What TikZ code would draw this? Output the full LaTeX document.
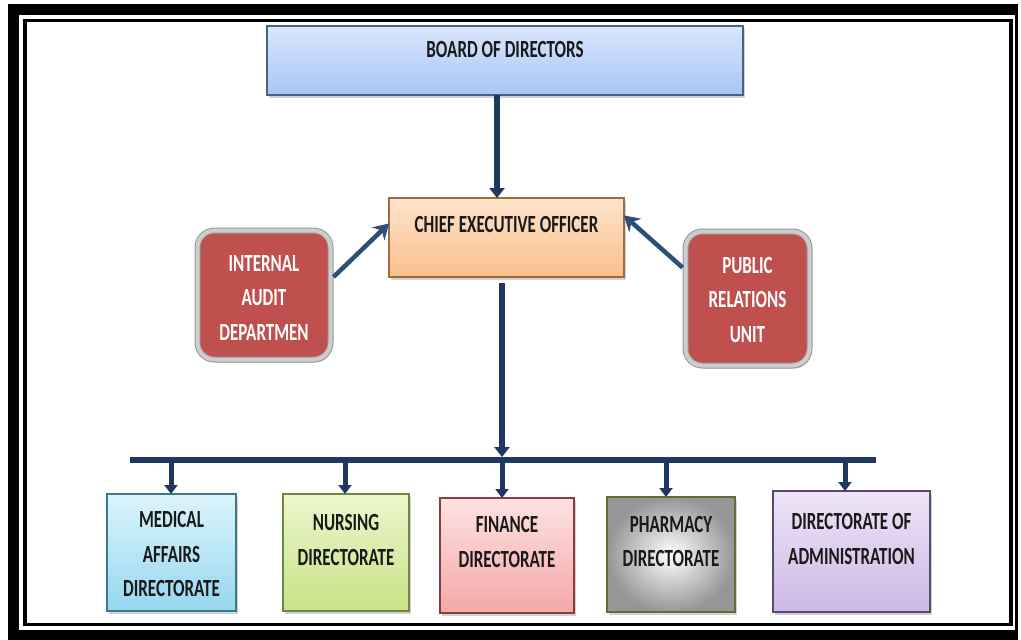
\documentclass[tikz,border=0pt]{standalone}
\usepackage{fontspec}
\setmainfont{Carlito}
\usepackage{graphicx}
\usetikzlibrary{arrows.meta,shadows}
\definecolor{navy}{RGB}{31,56,96}
\definecolor{diagblue}{RGB}{44,78,120}
\definecolor{redbox}{RGB}{192,80,77}
\definecolor{redrim}{RGB}{205,205,205}
\definecolor{redrimdark}{RGB}{150,150,150}
\definecolor{txt}{RGB}{25,25,25}
\newcommand\ttl[1]{\scalebox{1}[1.45]{#1}}
\tikzset{
  box/.style={rectangle, line width=1.6pt, inner sep=0pt, outer sep=0pt,
    drop shadow={shadow xshift=2pt, shadow yshift=-2.5pt, opacity=0.35}},
  redb/.style={rectangle, rounded corners=17pt, fill=redbox, draw=redrimdark, line width=1pt,
    double=redrim, double distance=4pt,
    inner sep=0pt, outer sep=3pt,
    drop shadow={shadow xshift=2pt, shadow yshift=-3pt, opacity=0.35}},
  lbl/.style={font=\bfseries\fontsize{17}{34.5}\selectfont, text=txt, align=center, inner sep=0pt},
  wlbl/.style={lbl, text=white},
  bigarrow/.style={draw=navy, line width=6pt, -{Triangle[width=15pt,length=10pt]}},
  smallarrow/.style={draw=navy, line width=5pt, -{Triangle[width=13pt,length=9pt]}},
  diagarrow/.style={draw=diagblue, line width=4.5pt, -{Stealth[length=15pt,width=18pt,inset=5pt]}},
}
\begin{document}
\begin{tikzpicture}[x=1pt,y=-1pt]
\useasboundingbox (0,0) rectangle (1021,640);
% frame
\fill[black] (8,4) rectangle (1018,640);
\fill[white] (19,15) rectangle (1015,630);
\draw[black, line width=3.5pt] (25,20.5) rectangle (1011,624.5);

% boxes
\node[box, draw={rgb,255:red,74;green,98;blue,128}, top color={rgb,255:red,218;green,230;blue,252}, bottom color={rgb,255:red,166;green,198;blue,246}, minimum width=476pt, minimum height=69pt] (board) at (505,60.5) {};
\node[lbl] (board-t) at (505,50) {\ttl{BOARD OF DIRECTORS}};

\node[box, draw={rgb,255:red,160;green,108;blue,62}, top color={rgb,255:red,253;green,228;blue,204}, bottom color={rgb,255:red,250;green,190;blue,140}, minimum width=235pt, minimum height=79pt] (ceo) at (506.5,237.5) {};
\node[lbl] (ceo-t) at (506.5,225) {\ttl{CHIEF EXECUTIVE OFFICER}};

\node[redb, minimum width=133pt, minimum height=129pt] (audit) at (264,295) {};
\node[wlbl] (audit-t) at (264,298) {\ttl{INTERNAL}\\\ttl{AUDIT}\\\ttl{DEPARTMEN}};

\node[redb, minimum width=124pt, minimum height=134pt] (pr) at (747.5,298.5) {};
\node[wlbl] (pr-t) at (747.5,300) {\ttl{PUBLIC}\\\ttl{RELATIONS}\\\ttl{UNIT}};

\node[box, draw={rgb,255:red,60;green,120;blue,140}, top color={rgb,255:red,220;green,244;blue,252}, bottom color={rgb,255:red,150;green,215;blue,238}, minimum width=129pt, minimum height=117pt] (med) at (171.5,552.5) {};
\node[lbl] (med-t) at (171.5,554) {\ttl{MEDICAL}\\\ttl{AFFAIRS}\\\ttl{DIRECTORATE}};

\node[box, draw={rgb,255:red,110;green,135;blue,60}, top color={rgb,255:red,236;green,246;blue,204}, bottom color={rgb,255:red,200;green,226;blue,136}, minimum width=126pt, minimum height=117pt] (nurs) at (346,552.5) {};
\node[lbl] (nurs-t) at (346,540) {\ttl{NURSING}\\\ttl{DIRECTORATE}};

\node[box, draw={rgb,255:red,140;green,60;blue,60}, top color={rgb,255:red,253;green,226;blue,226}, bottom color={rgb,255:red,243;green,168;blue,166}, minimum width=134pt, minimum height=115pt] (fin) at (507,555.5) {};
\node[lbl] (fin-t) at (507,542) {\ttl{FINANCE}\\\ttl{DIRECTORATE}};

\node[box, draw={rgb,255:red,95;green,110;blue,50}, inner color=white, outer color={rgb,255:red,150;green,150;blue,150}, minimum width=128pt, minimum height=115pt] (phar) at (671,554.5) {};
\node[lbl] (phar-t) at (671,541.5) {\ttl{PHARMACY}\\\ttl{DIRECTORATE}};

\node[box, draw={rgb,255:red,90;green,74;blue,112}, top color={rgb,255:red,238;green,228;blue,247}, bottom color={rgb,255:red,204;green,184;blue,230}, minimum width=157pt, minimum height=121pt] (admin) at (851.5,551.5) {};
\node[lbl] (admin-t) at (851.5,539) {\ttl{DIRECTORATE OF}\\\ttl{ADMINISTRATION}};

% connectors
\coordinate (topx) at (497,0);
\draw[bigarrow] (board.south -| topx) -- (ceo.north -| topx);

\coordinate (busL) at (130,460);
\coordinate (busR) at (876,460);
\draw[navy, line width=6pt] (busL) -- (busR);
\coordinate (b1) at (171,460);
\coordinate (b2) at (345,460);
\coordinate (b3) at (502,460);
\coordinate (b4) at (666,460);
\coordinate (b5) at (845,460);
\draw[bigarrow] ([yshift=-6pt]ceo.south -| b3) -- ([yshift=3pt]b3);
\draw[smallarrow] ([yshift=-2pt]b1) -- (b1 |- med.north);
\draw[smallarrow] ([yshift=-2pt]b2) -- (b2 |- nurs.north);
\draw[smallarrow] ([yshift=-2pt]b3) -- (b3 |- fin.north);
\draw[smallarrow] ([yshift=-2pt]b4) -- (b4 |- phar.north);
\draw[smallarrow] ([yshift=-2pt]b5) -- (b5 |- admin.north);

\draw[diagarrow] ([yshift=18pt]audit.east) -- ([yshift=14pt]ceo.west);
\draw[diagarrow] ([yshift=31pt]pr.west) -- ([yshift=22pt]ceo.east);
\end{tikzpicture}
\end{document}
